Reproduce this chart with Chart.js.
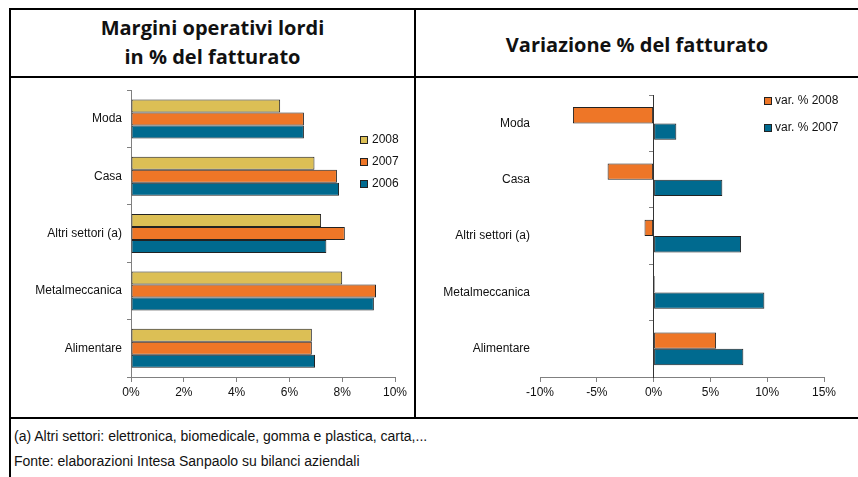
<!DOCTYPE html>
<html><head><meta charset="utf-8">
<script src="https://cdn.jsdelivr.net/npm/chart.js@4"></script>
<style>
body{margin:0;background:#fff;width:858px;height:477px;overflow:hidden;position:relative}
.ln{position:absolute;background:#000}
.t{position:absolute;font-family:"Open Sans",sans-serif;font-weight:bold;font-size:20px;line-height:24px;text-align:center;color:#111;white-space:nowrap}
.f{position:absolute;left:14px;font-family:"Liberation Sans",Arial,sans-serif;font-size:14px;line-height:20px;color:#111;white-space:nowrap}
.cv{position:absolute}
</style></head><body>
<div class="ln" style="left:9px;top:8px;width:849px;height:2px"></div>
<div class="ln" style="left:9px;top:76px;width:849px;height:2px"></div>
<div class="ln" style="left:9px;top:417px;width:849px;height:2px"></div>
<div class="ln" style="left:9px;top:8px;width:2px;height:469px"></div>
<div class="ln" style="left:414px;top:8px;width:2px;height:411px"></div>
<div class="t" style="left:11px;width:403px;top:16px">Margini operativi lordi</div>
<div class="t" style="left:11px;width:403px;top:45px">in % del fatturato</div>
<div class="t" style="left:416px;width:442px;top:33px">Variazione % del fatturato</div>
<div class="f" style="top:426px">(a) Altri settori: elettronica, biomedicale, gomma e plastica, carta,...</div>
<div class="f" style="top:451px">Fonte: elaborazioni Intesa Sanpaolo su bilanci aziendali</div>
<div class="cv" style="left:11px;top:78px;width:403px;height:339px"><canvas id="c1"></canvas></div>
<div class="cv" style="left:416px;top:78px;width:442px;height:339px"><canvas id="c2"></canvas></div>
<script>
const sectors = ['Moda', 'Casa', 'Altri settori (a)', 'Metalmeccanica', 'Alimentare'];
const margin2008 = [5.65, 6.95, 7.2, 8.0, 6.85];
const margin2007 = [6.55, 7.8, 8.1, 9.28, 6.85];
const margin2006 = [6.55, 7.88, 7.4, 9.2, 6.97];
const marginTicks = [0, 2, 4, 6, 8, 10];
const var2008 = [-7.1, -4.05, -0.8, 0.1, 5.5];
const var2007 = [2.0, 6.05, 7.7, 9.75, 7.9];
const varTicks = [-10, -5, 0, 5, 10, 15];

const YELLOW = '#DCBF55', ORANGE = '#EE7627', BLUE = '#006A8F', EDGE = '#222';
const AXIS = '#808080', TXT = '#111';
const FONT = '"Liberation Sans", Arial, sans-serif';

const boxLegend = {
  id: 'boxLegend',
  afterDraw(chart, args, o) {
    const ctx = chart.ctx; ctx.save();
    ctx.font = o.size + 'px ' + FONT; ctx.textBaseline = 'middle'; ctx.textAlign = 'left';
    chart.data.datasets.forEach((ds, i) => {
      const y = o.y + i * o.gap;
      ctx.fillStyle = ds.backgroundColor;
      ctx.fillRect(o.x, y - o.box / 2, o.box, o.box);
      ctx.strokeStyle = EDGE; ctx.lineWidth = 1;
      ctx.strokeRect(o.x + 0.5, y - o.box / 2 + 0.5, o.box - 1, o.box - 1);
      ctx.fillStyle = TXT; ctx.fillText(ds.label, o.x + o.box + o.pad, y);
    });
    ctx.restore();
  }
};

function tickSet(list) {
  return s => { s.ticks = list.map(v => ({ value: v })); };
}

const barStyle = { borderColor: EDGE, borderWidth: 1, borderSkipped: false, barPercentage: 1 };

new Chart(document.getElementById('c1'), {
  type: 'bar',
  plugins: [boxLegend],
  data: {
    labels: sectors,
    datasets: [
      { label: '2008', data: margin2008, backgroundColor: YELLOW },
      { label: '2007', data: margin2007, backgroundColor: ORANGE },
      { label: '2006', data: margin2006, backgroundColor: BLUE }
    ]
  },
  options: {
    indexAxis: 'y', responsive: true, maintainAspectRatio: false, animation: false,
    layout: { padding: { top: 7, right: 19, left: 0, bottom: 0 } },
    datasets: { bar: Object.assign({ categoryPercentage: 0.68 }, barStyle) },
    plugins: { legend: { display: false }, tooltip: { enabled: false },
      boxLegend: { x: 349, y: 62, gap: 22, box: 8, pad: 4, size: 12 } },
    scales: {
      x: { type: 'linear', min: marginTicks[0], max: marginTicks[marginTicks.length - 1],
        afterBuildTicks: tickSet(marginTicks),
        afterFit: s => { s.height = 40; },
        grid: { drawOnChartArea: false, drawTicks: true, tickLength: 5, color: AXIS },
        border: { display: true, color: AXIS },
        ticks: { callback: v => v + '%', font: { family: FONT, size: 12 }, color: TXT, padding: 3, maxRotation: 0 } },
      y: { type: 'category',
        afterFit: s => { s.width = 120; },
        grid: { offset: true, drawOnChartArea: false, drawTicks: true, tickLength: 4, color: AXIS },
        border: { display: true, color: AXIS },
        ticks: { font: { family: FONT, size: 12 }, color: TXT, padding: 5 } }
    }
  }
});

new Chart(document.getElementById('c2'), {
  type: 'bar',
  plugins: [boxLegend],
  data: {
    labels: sectors,
    datasets: [
      { label: 'var. % 2008', data: var2008, backgroundColor: ORANGE },
      { label: 'var. % 2007', data: var2007, backgroundColor: BLUE }
    ]
  },
  options: {
    indexAxis: 'y', responsive: true, maintainAspectRatio: false, animation: false,
    layout: { padding: { top: 17, right: 34, left: 0, bottom: 0 } },
    datasets: { bar: Object.assign({ categoryPercentage: 0.58 }, barStyle) },
    plugins: { legend: { display: false }, tooltip: { enabled: false },
      boxLegend: { x: 348, y: 23, gap: 27, box: 8, pad: 3, size: 12 } },
    scales: {
      x: { type: 'linear', min: varTicks[0], max: varTicks[varTicks.length - 1],
        afterBuildTicks: tickSet(varTicks),
        afterFit: s => { s.height = 40; },
        grid: { drawOnChartArea: false, drawTicks: true, tickLength: 5, color: AXIS },
        border: { display: true, color: AXIS },
        ticks: { callback: v => v + '%', font: { family: FONT, size: 12 }, color: TXT, padding: 3, maxRotation: 0 } },
      y: { type: 'category',
        afterFit: s => { s.width = 124; },
        grid: { display: false, drawTicks: false },
        border: { display: false },
        ticks: { font: { family: FONT, size: 12 }, color: TXT, padding: 10 } },
      y0: { type: 'category', position: { x: 0 },
        grid: { offset: true, drawOnChartArea: false, drawTicks: true, tickLength: 4, color: AXIS },
        border: { display: true, color: '#333' },
        ticks: { display: false } }
    }
  }
});
</script>
</body></html>
